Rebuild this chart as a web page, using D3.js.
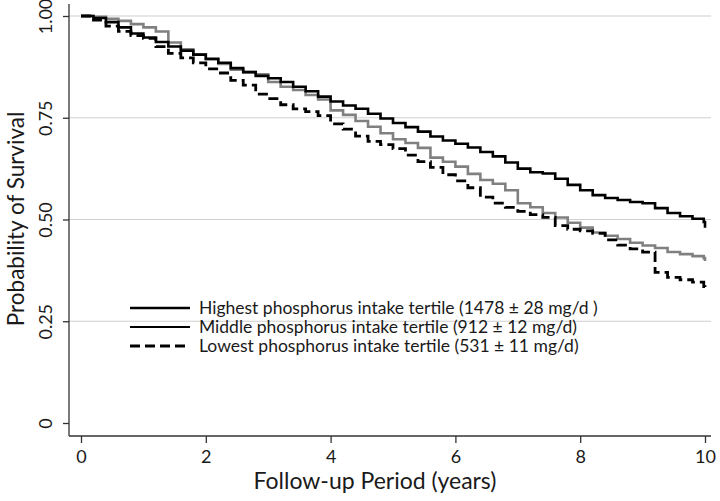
<!DOCTYPE html>
<html>
<head>
<meta charset="utf-8">
<script src="https://cdn.jsdelivr.net/npm/d3@7"></script>
<style>
  html, body { margin: 0; padding: 0; background: #fff; }
  svg { display: block; font-family: Lato, "Open Sans", sans-serif; }
</style>
</head>
<body>
<svg id="chart" width="720" height="501"></svg>
<script>
// ---- data ----
const times = [0, 0.2, 0.4, 0.6, 0.8, 1.0, 1.2, 1.4, 1.6, 1.8, 2.0, 2.2, 2.4, 2.6, 2.8, 3.0,
  3.2, 3.4, 3.6, 3.8, 4.0, 4.2, 4.4, 4.6, 4.8, 5.0, 5.2, 5.4, 5.6, 5.8, 6.0, 6.2, 6.4, 6.6,
  6.8, 7.0, 7.2, 7.4, 7.6, 7.8, 8.0, 8.2, 8.4, 8.6, 8.8, 9.0, 9.2, 9.4, 9.6, 9.8, 9.98, 10.0];

const highest = [1.0, 0.995, 0.985, 0.972, 0.957, 0.947, 0.936, 0.925, 0.915, 0.905, 0.895,
  0.885, 0.872, 0.862, 0.853, 0.847, 0.838, 0.826, 0.815, 0.802, 0.790, 0.780, 0.772, 0.760,
  0.748, 0.737, 0.727, 0.716, 0.704, 0.694, 0.686, 0.677, 0.666, 0.655, 0.640, 0.625, 0.616,
  0.613, 0.600, 0.585, 0.572, 0.560, 0.553, 0.548, 0.543, 0.540, 0.528, 0.516, 0.508, 0.502,
  0.494, 0.480];

const middle = [1.0, 0.998, 0.993, 0.988, 0.980, 0.972, 0.962, 0.935, 0.918, 0.905, 0.893,
  0.882, 0.868, 0.862, 0.857, 0.838, 0.826, 0.818, 0.806, 0.795, 0.768, 0.757, 0.742, 0.728,
  0.712, 0.697, 0.688, 0.676, 0.652, 0.642, 0.630, 0.612, 0.597, 0.588, 0.572, 0.540, 0.530,
  0.516, 0.505, 0.492, 0.480, 0.468, 0.460, 0.452, 0.443, 0.436, 0.430, 0.420, 0.415, 0.410,
  0.405, 0.398];

const lowest = [1.0, 0.990, 0.975, 0.962, 0.952, 0.945, 0.925, 0.908, 0.897, 0.885, 0.870,
  0.860, 0.842, 0.830, 0.808, 0.797, 0.782, 0.772, 0.765, 0.755, 0.735, 0.722, 0.705, 0.692,
  0.684, 0.674, 0.658, 0.642, 0.628, 0.610, 0.595, 0.578, 0.555, 0.540, 0.530, 0.520, 0.512,
  0.505, 0.485, 0.476, 0.472, 0.466, 0.450, 0.437, 0.428, 0.420, 0.370, 0.358, 0.352, 0.346,
  0.335, 0.322];

const xTicks = [0, 2, 4, 6, 8, 10];
const yTicks = [0, 0.25, 0.5, 0.75, 1.0];
const yTickLabels = ["0", "0.25", "0.50", "0.75", "1.00"];
const gridValues = [0.25, 0.5, 0.75, 1.0];

const seriesNames = [
  "Highest phosphorus intake tertile (1478 \u00b1 28 mg/d )",
  "Middle phosphorus intake tertile (912 \u00b1 12 mg/d)",
  "Lowest phosphorus intake tertile (531 \u00b1 11 mg/d)"
];

// ---- layout ----
const svg = d3.select("#chart");
const axisX = 69, axisY = 436, plotRight = 711;
const x = d3.scaleLinear().domain([0, 10]).range([81, 705]);
const y = d3.scaleLinear().domain([0, 1]).range([423, 16]);

const styles = [
  { color: "#000", width: 2.6, dash: null, legendColor: "#000", legendWidth: 2.4 },
  { color: "#808080", width: 2.6, dash: null, legendColor: "#000", legendWidth: 2.0 },
  { color: "#000", width: 2.8, dash: "10,5", legendColor: "#000", legendWidth: 2.8 }
];
const seriesValues = [highest, middle, lowest];
const textColor = "#1a1a1a";

// gridlines
svg.append("g").selectAll("line").data(gridValues).join("line")
  .attr("x1", axisX).attr("x2", plotRight)
  .attr("y1", d => y(d)).attr("y2", d => y(d))
  .attr("stroke", "#cfcfcf").attr("stroke-width", 1.2);

// y axis
const yLabelOf = d => yTickLabels[yTicks.indexOf(d)];
const yAxisG = svg.append("g").attr("transform", `translate(${axisX},0)`)
  .call(d3.axisLeft(y).tickValues(yTicks).tickSize(6).tickFormat(yLabelOf));
yAxisG.select(".domain").remove();
yAxisG.append("line").attr("x1", 0).attr("x2", 0).attr("y1", 4).attr("y2", axisY)
  .attr("stroke", "#333").attr("stroke-width", 1.3);
yAxisG.selectAll(".tick line").attr("stroke", "#333").attr("stroke-width", 1.3);
yAxisG.selectAll(".tick text")
  .attr("font-size", 18).attr("fill", textColor)
  .attr("font-family", "Lato, 'Open Sans', sans-serif")
  .attr("text-anchor", "middle")
  .attr("x", 0).attr("y", 0).attr("dy", "0.36em")
  .attr("transform", "translate(-23,0) rotate(-90)");

// x axis
const xAxisG = svg.append("g").attr("transform", `translate(0,${axisY})`)
  .call(d3.axisBottom(x).tickValues(xTicks).tickSize(7).tickPadding(7));
xAxisG.select(".domain").remove();
xAxisG.append("line").attr("x1", axisX).attr("x2", plotRight).attr("y1", 0).attr("y2", 0)
  .attr("stroke", "#333").attr("stroke-width", 1.3);
xAxisG.selectAll(".tick line").attr("stroke", "#333").attr("stroke-width", 1.3);
xAxisG.selectAll(".tick text")
  .attr("font-size", 18).attr("fill", textColor)
  .attr("font-family", "Lato, 'Open Sans', sans-serif");

// axis titles
svg.append("text").attr("x", 375).attr("y", 489)
  .attr("text-anchor", "middle").attr("font-size", 23).attr("fill", textColor)
  .text("Follow-up Period (years)");
svg.append("text").attr("transform", "translate(24,219) rotate(-90)")
  .attr("text-anchor", "middle").attr("font-size", 22.5).attr("fill", textColor)
  .text("Probability of Survival");

// curves
const line = d3.line().x(d => x(d[0])).y(d => y(d[1])).curve(d3.curveStepAfter);
[1, 2, 0].forEach(i => {
  const pts = times.map((t, j) => [t, seriesValues[i][j]]);
  svg.append("path").datum(pts)
    .attr("d", line)
    .attr("fill", "none")
    .attr("stroke", styles[i].color)
    .attr("stroke-width", styles[i].width)
    .attr("stroke-dasharray", styles[i].dash)
    .attr("stroke-linejoin", "miter");
});

// legend
const legendRows = [308, 327, 346];
const lg = svg.append("g");
seriesNames.forEach((name, i) => {
  lg.append("line").attr("x1", 130).attr("x2", 190)
    .attr("y1", legendRows[i]).attr("y2", legendRows[i])
    .attr("stroke", styles[i].legendColor).attr("stroke-width", styles[i].legendWidth)
    .attr("stroke-dasharray", styles[i].dash);
  lg.append("text").attr("x", 199).attr("y", legendRows[i]).attr("dy", "0.35em")
    .attr("font-size", 17.5).attr("fill", textColor).text(name);
});
</script>
</body>
</html>
